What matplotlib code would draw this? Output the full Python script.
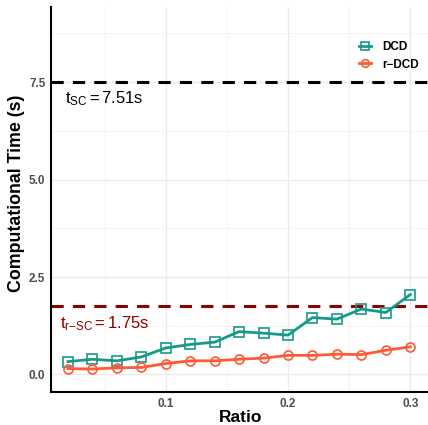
import matplotlib
matplotlib.use("Agg")
import matplotlib.pyplot as plt
import numpy as np

ratio = [0.02, 0.04, 0.06, 0.08, 0.10, 0.12, 0.14, 0.16, 0.18, 0.20, 0.22, 0.24, 0.26, 0.28, 0.30]
dcd = [0.33, 0.39, 0.35, 0.45, 0.68, 0.77, 0.83, 1.10, 1.06, 1.01, 1.46, 1.42, 1.68, 1.59, 2.05]
rdcd = [0.15, 0.14, 0.17, 0.18, 0.28, 0.35, 0.35, 0.39, 0.42, 0.49, 0.49, 0.52, 0.51, 0.62, 0.71]
t_sc = 7.51
t_rsc = 1.75
x_ticks = [0.1, 0.2, 0.3]
y_ticks = [0.0, 2.5, 5.0, 7.5]

plt.rcParams['font.family'] = ['Liberation Sans', 'DejaVu Sans']
plt.rcParams['mathtext.fontset'] = 'custom'
plt.rcParams['mathtext.rm'] = 'Liberation Sans'
plt.rcParams['mathtext.it'] = 'Liberation Sans'

teal = '#17998A'
orange = '#FF5A36'

fig = plt.figure(figsize=(4.28, 4.25), dpi=100)
ax = fig.add_axes([51/428, 33/425, 1 - 51/428, (392-7)/425])

ax.set_xlim(0.0061, 0.3145)
ax.set_ylim(-0.45, 9.43)

ax.set_xticks(x_ticks)
ax.set_xticklabels([f"{v:.1f}" for v in x_ticks])
ax.set_yticks(y_ticks)
ax.set_yticklabels([f"{v:.1f}" for v in y_ticks])
ax.set_xticks([0.05, 0.15, 0.25], minor=True)
ax.set_yticks([1.25, 3.75, 6.25, 8.75], minor=True)
ax.grid(True, which='major', color='#EBEBEB', lw=1.0)
ax.grid(True, which='minor', color='#F2F2F2', lw=0.6)
ax.set_axisbelow(True)
ax.tick_params(which='both', length=0)
ax.tick_params(axis='both', labelsize=8.5, labelcolor='#4D4D4D', pad=4)
for lab in ax.get_xticklabels() + ax.get_yticklabels():
    lab.set_fontweight('bold')

for s in ['top', 'right']:
    ax.spines[s].set_visible(False)
for s in ['left', 'bottom']:
    ax.spines[s].set_linewidth(1.5)
    ax.spines[s].set_color('black')

ax.axhline(t_sc, color='black', lw=2.2, dashes=(4, 3))
ax.axhline(t_rsc, color='#8B0000', lw=2.2, dashes=(4, 3))

ax.plot(ratio, dcd, color=teal, lw=2.0, marker='s', ms=6.5, mfc='none', mew=1.2, label='DCD', zorder=3)
ax.plot(ratio, rdcd, color=orange, lw=2.0, marker='o', ms=6.5, mfc='none', mew=1.2, label='r\u2212DCD', zorder=3)

ax.text(0.05, t_sc - 0.2, r'$\mathregular{t_{SC} = 7.51s}$', fontsize=12, color='black', va='top', ha='center')
ax.text(0.05, t_rsc - 0.2, r'$\mathregular{t_{r\mathrm{-}SC} = 1.75s}$', fontsize=12, color='#8B0000', va='top', ha='center')

fig.text(241/428, 2.5/425, 'Ratio', fontsize=12.5, fontweight='bold', ha='center', va='baseline')
fig.text(16.5/428, (425-193.5)/425, 'Computational Time (s)', fontsize=12.8, fontweight='bold',
         ha='center', va='center', rotation=90)

leg = ax.legend(loc='upper right', bbox_to_anchor=(1.005, 0.94), frameon=False,
                prop={'weight': 'bold', 'size': 8.5}, handlelength=1.0, labelspacing=0.5, handletextpad=1.0,
                markerscale=0.85)

fig.savefig('out.png', dpi=100)
